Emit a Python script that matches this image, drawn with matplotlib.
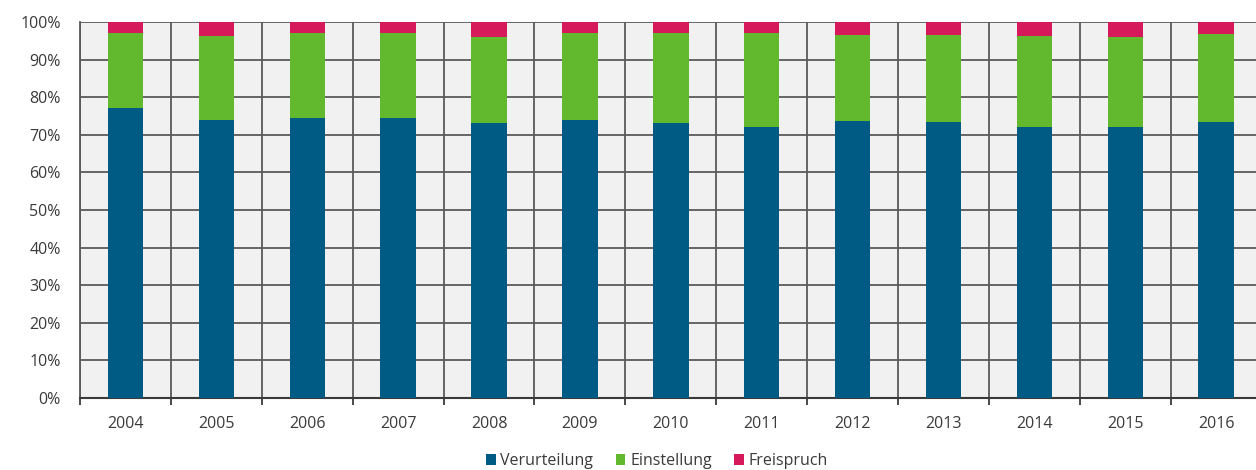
import numpy as np
import matplotlib
matplotlib.use("Agg")
import matplotlib.pyplot as plt
from matplotlib.ticker import FuncFormatter, MultipleLocator

plt.rcParams["font.family"] = ["Open Sans", "DejaVu Sans"]

# Anteile der Verfahrensausgänge je Jahr (in %)
years = ["2004", "2005", "2006", "2007", "2008", "2009", "2010",
         "2011", "2012", "2013", "2014", "2015", "2016"]
verurteilung = [77.1, 73.9, 74.4, 74.4, 73.1, 74.0, 73.1, 72.0, 73.7, 73.5, 72.2, 72.2, 73.5]
einstellung = [20.1, 22.4, 22.6, 22.6, 23.0, 23.0, 23.9, 25.0, 22.8, 23.0, 24.0, 23.9, 23.2]
freispruch = [2.8, 3.7, 3.0, 3.0, 3.9, 3.0, 3.0, 3.0, 3.5, 3.5, 3.8, 3.9, 3.3]

col_blue = "#005b84"
col_green = "#62b92e"
col_red = "#d5195b"
grid_col = "#5a5a5a"
text_col = "#3a3a3a"

fig = plt.figure(figsize=(12.56, 4.70), dpi=100)
ax = fig.add_axes([0.0637, 0.1532, 0.9408, 0.8])
ax.set_facecolor("#f1f1f1")

x = np.arange(len(years))
w = 0.39
v = np.array(verurteilung)
e = np.array(einstellung)
f = np.array(freispruch)
ax.bar(x, v, w, color=col_blue, label="Verurteilung", zorder=3)
ax.bar(x, e, w, bottom=v, color=col_green, label="Einstellung", zorder=3)
ax.bar(x, f, w, bottom=v + e, color=col_red, label="Freispruch", zorder=3)

ax.set_xlim(-0.5, len(years) - 0.5)
ax.set_ylim(0, 100)

# horizontal grid every 10 %, vertical lines between the years
ax.yaxis.set_major_locator(MultipleLocator(10))
ax.yaxis.set_major_formatter(FuncFormatter(lambda val, pos: f"{val:.0f}%"))
ax.grid(axis="y", color=grid_col, linewidth=1.3, zorder=1)
for b in np.arange(-0.5, len(years), 1.0):
    ax.axvline(b, color=grid_col, linewidth=1.3, zorder=1)

ax.set_xticks(x)
ax.set_xticklabels(years)
ax.set_xticks(np.arange(-0.5, len(years), 1.0), minor=True)
ax.tick_params(axis="x", which="major", length=0, pad=13, labelsize=11.5, labelcolor=text_col)
ax.tick_params(axis="x", which="minor", length=5, width=1.3, color="#3a3a3a", direction="out")
ax.tick_params(axis="y", length=0, pad=14, labelsize=11.5, labelcolor=text_col)

for side in ["top", "right"]:
    ax.spines[side].set_visible(False)
ax.spines["left"].set_color(grid_col)
ax.spines["left"].set_linewidth(1.3)
ax.spines["bottom"].set_color("#3a3a3a")
ax.spines["bottom"].set_linewidth(1.5)

fig.legend(loc="center", bbox_to_anchor=(0.523, 0.019), ncol=3, frameon=False,
           fontsize=11.5, handlelength=0.6, handleheight=0.6, handletextpad=0.3,
           columnspacing=1.4, labelcolor=text_col)

fig.savefig("out.png", dpi=100)
